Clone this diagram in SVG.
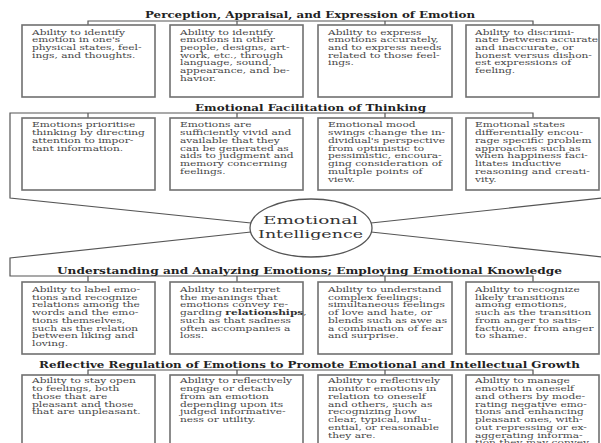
<svg xmlns="http://www.w3.org/2000/svg" width="601" height="443" viewBox="0 0 601 443">
<style>
.box{fill:#fff;stroke:#707070;stroke-width:1.6}
.t{font-family:"DejaVu Serif",serif;font-size:7.8px;fill:#474747}
.h{font-family:"DejaVu Serif",serif;font-weight:bold;font-size:10px;fill:#222}
.e{font-family:"DejaVu Serif",serif;font-size:11.2px;fill:#333}
.c{fill:none;stroke:#555;stroke-width:1.2}
.b{font-weight:bold;fill:#333}
</style>
<rect width="601" height="443" fill="#fff"/>

<g id="connectors">
<polyline class="c" points="88,25 88,21 533,21 533,25"/>
<line class="c" x1="237" y1="21" x2="237" y2="25"/>
<line class="c" x1="385" y1="21" x2="385" y2="25"/>
<polyline class="c" points="251,223 10,198 10,113 533,113 533,118"/>
<line class="c" x1="88" y1="113" x2="88" y2="118"/>
<line class="c" x1="237" y1="113" x2="237" y2="118"/>
<line class="c" x1="385" y1="113" x2="385" y2="118"/>
<line class="c" x1="371" y1="223" x2="612" y2="197"/>
<polyline class="c" points="251,232 10,258 10,276 533,276 533,282"/>
<line class="c" x1="88" y1="276" x2="88" y2="282"/>
<line class="c" x1="237" y1="276" x2="237" y2="282"/>
<line class="c" x1="385" y1="276" x2="385" y2="282"/>
<line class="c" x1="371" y1="232" x2="612" y2="258"/>
<polyline class="c" points="88,375 88,370 533,370 533,375"/>
<line class="c" x1="237" y1="370" x2="237" y2="375"/>
<line class="c" x1="385" y1="370" x2="385" y2="375"/>
</g>

<g id="headers">
<text class="h" x="145" y="17.5" textLength="330" lengthAdjust="spacingAndGlyphs">Perception, Appraisal, and Expression of Emotion</text>
<text class="h" x="195" y="110.5" textLength="231" lengthAdjust="spacingAndGlyphs">Emotional Facilitation of Thinking</text>
<text class="h" x="57" y="273.5" textLength="505" lengthAdjust="spacingAndGlyphs">Understanding and Analyzing Emotions; Employing Emotional Knowledge</text>
<text class="h" x="39" y="367.5" textLength="541" lengthAdjust="spacingAndGlyphs">Reflective Regulation of Emotions to Promote Emotional and Intellectual Growth</text>
</g>

<g id="ei">
<ellipse cx="311" cy="228" rx="61" ry="29" fill="#fff" stroke="#555" stroke-width="1.3"/>
<text class="e" x="263" y="224" textLength="95" lengthAdjust="spacingAndGlyphs">Emotional</text>
<text class="e" x="258" y="237.5" textLength="105" lengthAdjust="spacingAndGlyphs">Intelligence</text>
</g>

<!-- Row 1 -->
<g id="r1b1"><rect class="box" x="22" y="25" width="133" height="72"/>
<text class="t" transform="translate(32,34.5) scale(1.36,1)"><tspan x="0">Ability to identify</tspan><tspan x="0" dy="7.75">emotion in one's</tspan><tspan x="0" dy="7.75">physical states, feel-</tspan><tspan x="0" dy="7.75">ings, and thoughts.</tspan></text></g>
<g id="r1b2"><rect class="box" x="170" y="25" width="133" height="72"/>
<text class="t" transform="translate(180,34.5) scale(1.36,1)"><tspan x="0">Ability to identify</tspan><tspan x="0" dy="7.75">emotions in other</tspan><tspan x="0" dy="7.75">people, designs, art-</tspan><tspan x="0" dy="7.75">work, etc., through</tspan><tspan x="0" dy="7.75">language, sound,</tspan><tspan x="0" dy="7.75">appearance, and be-</tspan><tspan x="0" dy="7.75">havior.</tspan></text></g>
<g id="r1b3"><rect class="box" x="318" y="25" width="134" height="72"/>
<text class="t" transform="translate(328,34.5) scale(1.36,1)"><tspan x="0">Ability to express</tspan><tspan x="0" dy="7.75">emotions accurately,</tspan><tspan x="0" dy="7.75">and to express needs</tspan><tspan x="0" dy="7.75">related to those feel-</tspan><tspan x="0" dy="7.75">ings.</tspan></text></g>
<g id="r1b4"><rect class="box" x="466" y="25" width="133" height="72"/>
<text class="t" transform="translate(475,34.5) scale(1.36,1)"><tspan x="0">Ability to discrimi-</tspan><tspan x="0" dy="7.75">nate between accurate</tspan><tspan x="0" dy="7.75">and inaccurate, or</tspan><tspan x="0" dy="7.75">honest versus dishon-</tspan><tspan x="0" dy="7.75">est expressions of</tspan><tspan x="0" dy="7.75">feeling.</tspan></text></g>

<!-- Row 2 -->
<g id="r2b1"><rect class="box" x="22" y="118" width="133" height="72"/>
<text class="t" transform="translate(32,127.3) scale(1.36,1)"><tspan x="0">Emotions prioritise</tspan><tspan x="0" dy="7.75">thinking by directing</tspan><tspan x="0" dy="7.75">attention to impor-</tspan><tspan x="0" dy="7.75">tant information.</tspan></text></g>
<g id="r2b2"><rect class="box" x="170" y="118" width="133" height="72"/>
<text class="t" transform="translate(180,127.3) scale(1.36,1)"><tspan x="0">Emotions are</tspan><tspan x="0" dy="7.75">sufficiently vivid and</tspan><tspan x="0" dy="7.75">available that they</tspan><tspan x="0" dy="7.75">can be generated as</tspan><tspan x="0" dy="7.75">aids to judgment and</tspan><tspan x="0" dy="7.75">memory concerning</tspan><tspan x="0" dy="7.75">feelings.</tspan></text></g>
<g id="r2b3"><rect class="box" x="318" y="118" width="134" height="72"/>
<text class="t" transform="translate(328,127.3) scale(1.36,1)"><tspan x="0">Emotional mood</tspan><tspan x="0" dy="7.75">swings change the in-</tspan><tspan x="0" dy="7.75">dividual's perspective</tspan><tspan x="0" dy="7.75">from optimistic to</tspan><tspan x="0" dy="7.75">pessimistic, encoura-</tspan><tspan x="0" dy="7.75">ging consideration of</tspan><tspan x="0" dy="7.75">multiple points of</tspan><tspan x="0" dy="7.75">view.</tspan></text></g>
<g id="r2b4"><rect class="box" x="466" y="118" width="133" height="72"/>
<text class="t" transform="translate(475,127.3) scale(1.36,1)"><tspan x="0">Emotional states</tspan><tspan x="0" dy="7.75">differentially encou-</tspan><tspan x="0" dy="7.75">rage specific problem</tspan><tspan x="0" dy="7.75">approaches such as</tspan><tspan x="0" dy="7.75">when happiness faci-</tspan><tspan x="0" dy="7.75">litates inductive</tspan><tspan x="0" dy="7.75">reasoning and creati-</tspan><tspan x="0" dy="7.75">vity.</tspan></text></g>

<!-- Row 3 -->
<g id="r3b1"><rect class="box" x="22" y="282" width="133" height="72"/>
<text class="t" transform="translate(32,292) scale(1.36,1)"><tspan x="0">Ability to label emo-</tspan><tspan x="0" dy="7.75">tions and recognize</tspan><tspan x="0" dy="7.75">relations among the</tspan><tspan x="0" dy="7.75">words and the emo-</tspan><tspan x="0" dy="7.75">tions themselves,</tspan><tspan x="0" dy="7.75">such as the relation</tspan><tspan x="0" dy="7.75">between liking and</tspan><tspan x="0" dy="7.75">loving.</tspan></text></g>
<g id="r3b2"><rect class="box" x="170" y="282" width="133" height="72"/>
<text class="t" transform="translate(180,292) scale(1.36,1)"><tspan x="0">Ability to interpret</tspan><tspan x="0" dy="7.75">the meanings that</tspan><tspan x="0" dy="7.75">emotions convey re-</tspan><tspan x="0" dy="7.75">garding <tspan class="b">relationships</tspan>,</tspan><tspan x="0" dy="7.75">such as that sadness</tspan><tspan x="0" dy="7.75">often accompanies a</tspan><tspan x="0" dy="7.75">loss.</tspan></text></g>
<g id="r3b3"><rect class="box" x="318" y="282" width="134" height="72"/>
<text class="t" transform="translate(328,292) scale(1.36,1)"><tspan x="0">Ability to understand</tspan><tspan x="0" dy="7.75">complex feelings:</tspan><tspan x="0" dy="7.75">simultaneous feelings</tspan><tspan x="0" dy="7.75">of love and hate, or</tspan><tspan x="0" dy="7.75">blends such as awe as</tspan><tspan x="0" dy="7.75">a combination of fear</tspan><tspan x="0" dy="7.75">and surprise.</tspan></text></g>
<g id="r3b4"><rect class="box" x="466" y="282" width="133" height="72"/>
<text class="t" transform="translate(475,292) scale(1.36,1)"><tspan x="0">Ability to recognize</tspan><tspan x="0" dy="7.75">likely transitions</tspan><tspan x="0" dy="7.75">among emotions,</tspan><tspan x="0" dy="7.75">such as the transition</tspan><tspan x="0" dy="7.75">from anger to satis-</tspan><tspan x="0" dy="7.75">faction, or from anger</tspan><tspan x="0" dy="7.75">to shame.</tspan></text></g>

<!-- Row 4 -->
<g id="r4b1"><rect class="box" x="22" y="375" width="133" height="80"/>
<text class="t" transform="translate(32,383.3) scale(1.36,1)"><tspan x="0">Ability to stay open</tspan><tspan x="0" dy="7.75">to feelings, both</tspan><tspan x="0" dy="7.75">those that are</tspan><tspan x="0" dy="7.75">pleasant and those</tspan><tspan x="0" dy="7.75">that are unpleasant.</tspan></text></g>
<g id="r4b2"><rect class="box" x="170" y="375" width="133" height="80"/>
<text class="t" transform="translate(180,383.3) scale(1.36,1)"><tspan x="0">Ability to reflectively</tspan><tspan x="0" dy="7.75">engage or detach</tspan><tspan x="0" dy="7.75">from an emotion</tspan><tspan x="0" dy="7.75">depending upon its</tspan><tspan x="0" dy="7.75">judged informative-</tspan><tspan x="0" dy="7.75">ness or utility.</tspan></text></g>
<g id="r4b3"><rect class="box" x="318" y="375" width="134" height="80"/>
<text class="t" transform="translate(328,383.3) scale(1.36,1)"><tspan x="0">Ability to reflectively</tspan><tspan x="0" dy="7.75">monitor emotions in</tspan><tspan x="0" dy="7.75">relation to oneself</tspan><tspan x="0" dy="7.75">and others, such as</tspan><tspan x="0" dy="7.75">recognizing how</tspan><tspan x="0" dy="7.75">clear, typical, influ-</tspan><tspan x="0" dy="7.75">ential, or reasonable</tspan><tspan x="0" dy="7.75">they are.</tspan></text></g>
<g id="r4b4"><rect class="box" x="466" y="375" width="133" height="80"/>
<text class="t" transform="translate(475,383.3) scale(1.36,1)"><tspan x="0">Ability to manage</tspan><tspan x="0" dy="7.75">emotion in oneself</tspan><tspan x="0" dy="7.75">and others by mode-</tspan><tspan x="0" dy="7.75">rating negative emo-</tspan><tspan x="0" dy="7.75">tions and enhancing</tspan><tspan x="0" dy="7.75">pleasant ones, with-</tspan><tspan x="0" dy="7.75">out repressing or ex-</tspan><tspan x="0" dy="7.75">aggerating informa-</tspan><tspan x="0" dy="7.75">tion they may convey.</tspan></text></g>
</svg>
